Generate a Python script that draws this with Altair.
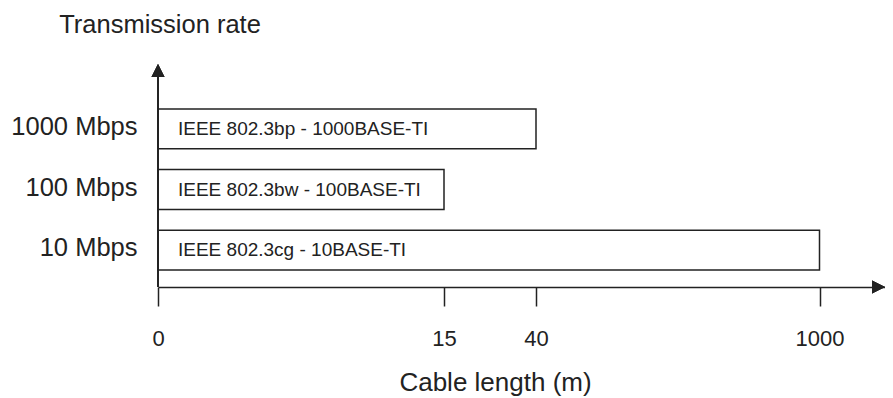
import altair as alt
import pandas as pd

rates = ["1000 Mbps", "100 Mbps", "10 Mbps"]
standards = ["IEEE 802.3bp - 1000BASE-TI", "IEEE 802.3bw - 100BASE-TI", "IEEE 802.3cg - 10BASE-TI"]
lengths = [40, 15, 1000]
tick_values = [0, 15, 40, 1000]

df = pd.DataFrame({"rate": rates, "standard": standards, "length": lengths})

FONT = "Liberation Sans"
INK = "#222222"
W, H = 727, 223

x_scale = alt.Scale(domain=[0, 15, 40, 1000, 1100], range=[0, 286, 378, 661.5, W], nice=False, zero=False)
y_scale = alt.Scale(domain=rates, range=[28, H], paddingInner=0.344, paddingOuter=0.279)

base = alt.Chart(df)

bars = base.mark_bar(fill="white", stroke=INK, strokeWidth=1.5).encode(
    x=alt.X("length:Q", scale=x_scale,
            axis=alt.Axis(values=tick_values, title="Cable length (m)", grid=False,
                          domainColor=INK, domainWidth=1.5, tickColor=INK, tickWidth=1.5,
                          tickSize=19, labelPadding=22, labelFontSize=22, labelFont=FONT,
                          labelColor=INK, labelFlush=False, labelOverlap=False,
                          titleFont=FONT, titleFontSize=26, titleFontWeight="normal",
                          titleColor=INK, titleX=337, titleY=103, titleBaseline="alphabetic",
                          titleAlign="center", format="d")),
    x2=alt.datum(0),
    y=alt.Y("rate:N", scale=y_scale, sort=rates,
            axis=alt.Axis(domain=False, ticks=False, grid=False, labelPadding=21, labelFontSize=25.5,
                          labelFont=FONT, labelColor=INK, labelOffset=-2,
                          title="Transmission rate", titleAngle=0, titleX=1.5, titleY=-32,
                          titleAlign="center", titleBaseline="alphabetic", titleFont=FONT,
                          titleFontSize=25.5, titleFontWeight="normal", titleColor=INK)),
)

labels = base.mark_text(align="left", baseline="middle", font=FONT, fontSize=19, color=INK).encode(
    x=alt.value(20),
    y=alt.Y("rate:N", scale=y_scale, sort=rates),
    text="standard:N",
)

y_line = base.mark_rule(color=INK, strokeWidth=1.5).encode(
    x=alt.value(0), y=alt.value(10), y2=alt.value(H)
)

up_arrow = base.mark_point(shape="M0,-1L1,1L-1,1Z", filled=True, color=INK, size=169, opacity=1).encode(
    x=alt.value(0), y=alt.value(6.5)
)
right_arrow = base.mark_point(shape="M1,0L-1,-1L-1,1Z", filled=True, color=INK, size=169, opacity=1).encode(
    x=alt.value(W - 6.5), y=alt.value(H)
)

chart = alt.layer(bars, labels, y_line, up_arrow, right_arrow).properties(
    width=W, height=H,
    background="white",
    padding={"left": 150, "top": 56, "right": 0, "bottom": 111},
    autosize=alt.AutoSizeParams(type="none"),
).configure_view(stroke=None)

chart.save("out.html", embed_options={"renderer": "svg", "actions": False})
